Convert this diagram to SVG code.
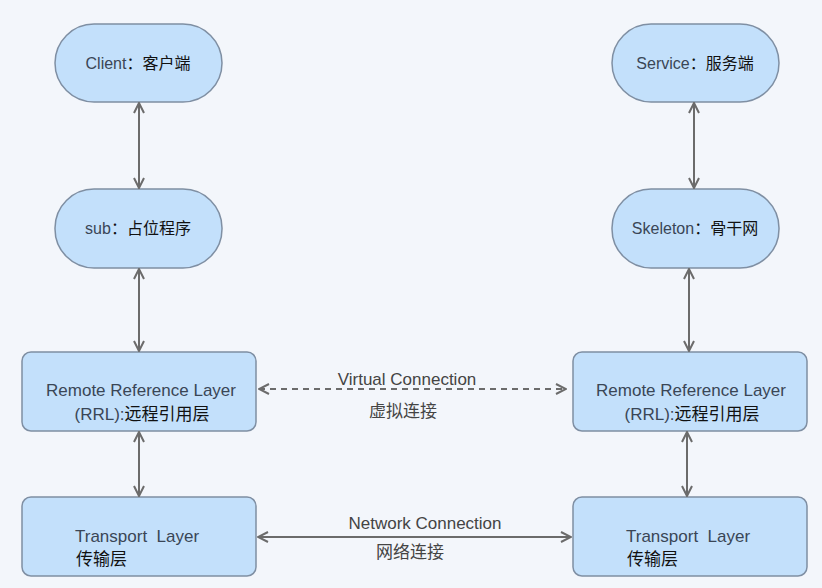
<svg xmlns="http://www.w3.org/2000/svg" width="822" height="588" viewBox="0 0 822 588">
<style>
.node{fill:#c3e0fb;stroke:#7f8fa3;stroke-width:1.5}
.t{font-family:"Liberation Sans","Noto Sans CJK SC",sans-serif;font-size:16px;fill:#3a4656;text-anchor:middle}
.b{font-size:17px}
.s{text-anchor:start}
.c{font-family:"Noto Sans CJK SC",sans-serif;fill:#111}
.lbl{font-family:"Liberation Sans","Noto Sans CJK SC",sans-serif;font-size:17px;fill:#444;text-anchor:middle}
.ln{stroke:#6b6b6b;stroke-width:2;fill:none}
</style>
<defs>
<marker id="ah" viewBox="0 0 12 12" refX="11" refY="6" markerWidth="12" markerHeight="12" markerUnits="userSpaceOnUse" orient="auto-start-reverse">
<path d="M1,1 L11,6 L1,11" fill="none" stroke="#6b6b6b" stroke-width="2"/>
</marker>
</defs>
<rect width="822" height="588" fill="#f3f6fb"/>
<g id="client"><rect class="node" x="55" y="24" width="167" height="78" rx="39"/><text class="t" x="138" y="69">Client<tspan class="c">：客户端</tspan></text></g>
<g id="service"><rect class="node" x="612" y="24" width="167" height="78" rx="39"/><text class="t" x="695" y="69">Service<tspan class="c">：服务端</tspan></text></g>
<g id="sub"><rect class="node" x="55" y="189" width="167" height="79" rx="39"/><text class="t" x="138" y="234">sub<tspan class="c">：占位程序</tspan></text></g>
<g id="skeleton"><rect class="node" x="612" y="189" width="167" height="79" rx="39"/><text class="t" x="695" y="234">Skeleton<tspan class="c">：骨干网</tspan></text></g>
<g id="rrl-left"><rect class="node" x="22" y="352" width="234" height="79" rx="9"/><text class="t b" x="141" y="396">Remote Reference Layer</text><text class="t b" x="142" y="420">(RRL):<tspan class="c">远程引用层</tspan></text></g>
<g id="rrl-right"><rect class="node" x="573" y="352" width="234" height="79" rx="9"/><text class="t b" x="691" y="396">Remote Reference Layer</text><text class="t b" x="692" y="420">(RRL):<tspan class="c">远程引用层</tspan></text></g>
<g id="transport-left"><rect class="node" x="22" y="497" width="234" height="79" rx="9"/><text class="t b s" x="75" y="542">Transport&#160; Layer</text><text class="t b c s" x="76" y="565">传输层</text></g>
<g id="transport-right"><rect class="node" x="573" y="497" width="234" height="79" rx="9"/><text class="t b s" x="626" y="542">Transport&#160; Layer</text><text class="t b c s" x="627" y="565">传输层</text></g>
<g id="connectors">
<line class="ln" x1="139" y1="103" x2="139" y2="188" marker-start="url(#ah)" marker-end="url(#ah)"/>
<line class="ln" x1="139" y1="269" x2="139" y2="351" marker-start="url(#ah)" marker-end="url(#ah)"/>
<line class="ln" x1="139" y1="432" x2="139" y2="496" marker-start="url(#ah)" marker-end="url(#ah)"/>
<line class="ln" x1="694" y1="103" x2="694" y2="188" marker-start="url(#ah)" marker-end="url(#ah)"/>
<line class="ln" x1="689" y1="269" x2="689" y2="351" marker-start="url(#ah)" marker-end="url(#ah)"/>
<line class="ln" x1="687" y1="432" x2="687" y2="496" marker-start="url(#ah)" marker-end="url(#ah)"/>
<line class="ln" x1="259" y1="389" x2="566" y2="389" stroke-dasharray="6,5" marker-start="url(#ah)" marker-end="url(#ah)"/>
<line class="ln" x1="258" y1="537" x2="571" y2="537" marker-start="url(#ah)" marker-end="url(#ah)"/>
<text class="lbl" x="407" y="385">Virtual Connection</text>
<text class="lbl c" x="403" y="417">虚拟连接</text>
<text class="lbl" x="425" y="529">Network Connection</text>
<text class="lbl c" x="410" y="558">网络连接</text>
</g>
</svg>
